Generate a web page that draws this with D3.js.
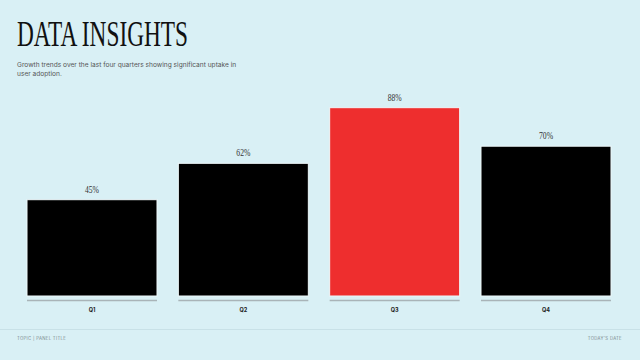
<!DOCTYPE html>
<html><head><meta charset="utf-8">
<script src="https://cdn.jsdelivr.net/npm/d3@7"></script>
<style>html,body{margin:0;padding:0;background:#d9f0f5;}svg{display:block;}</style>
</head><body>
<svg id="c" width="640" height="360"></svg>
<script>
const categories = ["Q1","Q2","Q3","Q4"];
const values = [45,62,88,70];
const highlight = ["Q3"];
const valueLabels = ["45%","62%","88%","70%"];
const title = "DATA INSIGHTS";
const subtitleLines = ["Growth trends over the last four quarters showing significant uptake in","user adoption."];
const footerLeft = "TOPIC | PANEL TITLE";
const footerRight = "TODAY'S DATE";

const svg = d3.select("#c");
svg.append("rect").attr("width",640).attr("height",360).attr("fill","#d9f0f5");

svg.append("text").attr("x",17).attr("y",46).text(title)
  .attr("font-family","Liberation Serif, serif").attr("font-size",35)
  .attr("fill","#111").attr("textLength",171).attr("lengthAdjust","spacingAndGlyphs");

svg.append("g").selectAll("text").data(subtitleLines).join("text")
  .attr("x",17).attr("y",(d,i)=>67+i*8.5).text(d=>d)
  .attr("font-family","Inter, sans-serif").attr("font-size",6.6).attr("fill","#555");

const x = d3.scaleBand().domain(categories).range([27,611]).paddingInner(0.141).paddingOuter(0);
const y = d3.scaleLinear().domain([0,100]).range([296,82]);

const g = svg.append("g");
g.selectAll("rect.bar").data(categories).join("rect").attr("class","bar")
  .attr("x",d=>x(d)).attr("width",x.bandwidth())
  .attr("y",(d,i)=>y(values[i])).attr("height",(d,i)=>y(0)-y(values[i]))
  .attr("fill",d=>highlight.includes(d)?"#ee2e2e":"#000")
  .attr("stroke","#eef8fa").attr("stroke-width",1);

g.selectAll("line.base").data(categories).join("line").attr("class","base")
  .attr("x1",d=>x(d)).attr("x2",d=>x(d)+x.bandwidth())
  .attr("y1",300.5).attr("y2",300.5).attr("stroke","#a9b4b8").attr("stroke-width",1.5);

g.selectAll("text.val").data(categories).join("text").attr("class","val")
  .attr("x",d=>x(d)+x.bandwidth()/2).attr("y",(d,i)=>y(values[i])-7)
  .attr("text-anchor","middle").text((d,i)=>valueLabels[i])
  .attr("font-family","Liberation Serif, serif").attr("font-size",10).attr("fill","#333")
  .attr("textLength",14).attr("lengthAdjust","spacingAndGlyphs");

const xAxis = d3.axisBottom(x).tickSize(0).tickPadding(0);
const ax = svg.append("g").attr("transform","translate(0,310)").call(xAxis);
ax.select(".domain").remove();
ax.selectAll("text").attr("font-family","Inter, sans-serif").attr("font-size",5.5)
  .attr("font-weight","bold").attr("fill","#222").attr("dy","0.35em");

svg.append("line").attr("x1",0).attr("x2",640).attr("y1",329.5).attr("y2",329.5)
  .attr("stroke","#c8e1e7").attr("stroke-width",1);

svg.append("text").attr("x",17).attr("y",340).text(footerLeft)
  .attr("font-family","Inter, sans-serif").attr("font-size",4.3).attr("letter-spacing",0.3).attr("fill","#7a8a8e");
svg.append("text").attr("x",622).attr("y",340).attr("text-anchor","end").text(footerRight)
  .attr("font-family","Inter, sans-serif").attr("font-size",4.3).attr("letter-spacing",0.3).attr("fill","#7a8a8e");
</script>
</body></html>
